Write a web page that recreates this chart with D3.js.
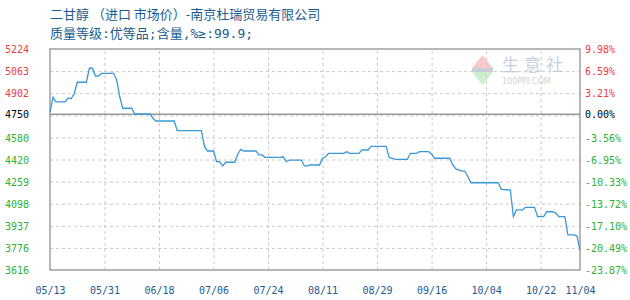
<!DOCTYPE html>
<html><head><meta charset="utf-8">
<script src="https://cdn.jsdelivr.net/npm/d3@7/dist/d3.min.js"></script>
<style>
html,body{margin:0;padding:0;background:#fff;}
svg{display:block;}
</style></head>
<body>
<svg id="chart" width="630" height="300"></svg>
<script>
const titleLine1 = "二甘醇 （进口 市场价）-南京杜瑞贸易有限公司";
const titleLine2 = "质量等级:优等品;含量,%≥:99.9;";

const dates = ["05-13","05-14","05-15","05-18","05-19","05-20","05-21","05-22","05-25","05-26","05-27","05-28","05-29","05-30",
"06-03","06-04","06-05","06-06","06-09","06-10","06-15","06-16","06-17","06-23","06-24",
"07-02","07-03","07-04","07-06","07-07","07-08","07-09","07-10","07-13","07-14","07-15","07-16","07-20","07-21","07-22","07-23","07-28","07-29","07-30","07-31",
"08-04","08-05","08-06","08-07","08-10","08-11","08-12","08-13","08-18","08-19","08-20","08-23","08-24","08-26","08-27",
"09-01","09-02","09-03","09-04","09-08","09-09","09-11","09-12","09-15","09-16","09-17","09-22","09-23","09-24","09-26","09-27","09-28","09-29",
"10-08","10-09","10-12","10-13","10-14","10-16","10-17","10-20","10-21","10-23","10-24","10-26","10-27","10-28","10-30","10-31",
"11-02","11-03","11-04"];
const values = [4765,4873,4840,4840,4868,4862,4900,4982,4982,5084,5084,5027,5027,5047,
5047,5000,4880,4793,4793,4751,4751,4720,4700,4700,4630,
4630,4513,4482,4482,4404,4404,4373,4400,4400,4460,4494,4482,4482,4453,4453,4436,4436,4440,4404,4416,
4416,4373,4373,4380,4380,4429,4440,4465,4465,4477,4465,4465,4489,4489,4516,
4516,4435,4429,4421,4421,4465,4465,4477,4477,4460,4429,4429,4380,4351,4336,4336,4295,4251,
4251,4203,4198,4004,4053,4053,4072,4072,4004,4004,4040,4040,4030,4004,4004,3871,
3871,3865,3762];

const xTickDates = ["05-13","05-31","06-18","07-06","07-24","08-11","08-29","09-16","10-04","10-22","11-04"];
const yDomain = [3616, 5224];
const baseValue = 4750;
const yLabels = ["5224","5063","4902","4750","4580","4420","4259","4098","3937","3776","3616"];
const pctLabels = ["9.98%","6.59%","3.21%","0.00%","-3.56%","-6.95%","-10.33%","-13.72%","-17.10%","-20.49%","-23.87%"];

const YEAR = 2024;
const parse = s => new Date(Date.UTC(YEAR, +s.slice(0,2)-1, +s.slice(3,5)));
const data = dates.map((d,i)=>({date:parse(d), value:values[i]}));

const L=50, R=580, T=49, B=270;
const svg = d3.select("#chart");
const x = d3.scaleUtc().domain([parse(xTickDates[0]), parse(xTickDates[xTickDates.length-1])]).range([L,R]);
const y = d3.scaleLinear().domain(yDomain).range([B,T]);

const nY = yLabels.length;
const gridVals = d3.range(nY).map(i => yDomain[1] - i*(yDomain[1]-yDomain[0])/(nY-1));
const labelVals = yLabels.map(v => +v);

// watermark
const wm = svg.append("g").attr("opacity",0.55);
wm.append("path").attr("d","M472,68 L482.5,55 L493,68 Z").attr("fill","#f4a0a0");
wm.append("rect").attr("x",472).attr("y",68).attr("width",21).attr("height",4).attr("fill","#9aa6c8");
wm.append("path").attr("d","M472,72 L482.5,85 L493,72 Z").attr("fill","#a8e0a8");
wm.append("text").attr("x",502).attr("y",71).attr("font-family","Noto Sans CJK SC").attr("font-size",17)
  .attr("fill","#9aa8cc").attr("letter-spacing",5).text("生意社");
wm.append("text").attr("x",502).attr("y",84).attr("font-family","DejaVu Sans").attr("font-size",8)
  .attr("fill","#aaaaaa").text("100PPI.COM");

// grid horizontal
const gy = svg.append("g").attr("transform",`translate(${L},0)`)
  .call(d3.axisLeft(y).tickValues(gridVals.slice(1,-1)).tickSize(-(R-L)).tickFormat(""));
gy.select(".domain").remove();
gy.selectAll("line").attr("stroke","#c8c8c8").attr("stroke-dasharray","3,3");

// grid vertical
const gx = svg.append("g").attr("transform",`translate(0,${B})`)
  .call(d3.axisBottom(x).tickValues(xTickDates.slice(1,-1).map(parse)).tickSize(-(B-T)).tickFormat(""));
gx.select(".domain").remove();
gx.selectAll("line").attr("stroke","#c8c8c8").attr("stroke-dasharray","3,3");

// baseline
svg.append("line").attr("x1",L).attr("x2",R).attr("y1",y(baseValue)).attr("y2",y(baseValue))
  .attr("stroke","#999").attr("stroke-width",1.5);

// border
svg.append("rect").attr("x",L).attr("y",T).attr("width",R-L).attr("height",B-T)
  .attr("fill","none").attr("stroke","#a0a0a0").attr("stroke-width",1.5);

// line
svg.append("path").datum(data)
  .attr("d", d3.line().x(d=>x(d.date)).y(d=>y(d.value)))
  .attr("fill","none").attr("stroke","#3a98d8").attr("stroke-width",1.3);

// labels
const colorFor = v => v > baseValue ? "#f03c3c" : (v < baseValue ? "#30b030" : "#000");
const fam = "DejaVu Sans Mono";
const gl = svg.append("g").attr("transform",`translate(5,0)`)
  .call(d3.axisRight(y).tickValues(labelVals).tickSize(0).tickPadding(0).tickFormat((d,i)=>yLabels[i]));
gl.select(".domain").remove();
gl.selectAll("text").attr("font-family",fam).attr("font-size",10).attr("fill",d=>colorFor(d)).attr("dy","0.35em");

const gr = svg.append("g").attr("transform",`translate(585,0)`)
  .call(d3.axisRight(y).tickValues(labelVals).tickSize(0).tickPadding(0).tickFormat((d,i)=>pctLabels[i]));
gr.select(".domain").remove();
gr.selectAll("text").attr("font-family",fam).attr("font-size",10).attr("fill",d=>colorFor(d)).attr("dy","0.35em");

const gb = svg.append("g").attr("transform",`translate(0,${B})`)
  .call(d3.axisBottom(x).tickValues(xTickDates.map(parse)).tickSize(0).tickPadding(0).tickFormat((d,i)=>xTickDates[i].replace("-","/")));
gb.select(".domain").remove();
gb.selectAll("text").attr("font-family",fam).attr("font-size",10).attr("fill","#1a5c8f").attr("dy","0").attr("y",24);

// titles
svg.append("text").attr("x",50).attr("y",19).attr("font-family","Noto Sans CJK SC").attr("font-size",13)
  .attr("fill","#1a5c8f").text(titleLine1);
svg.append("text").attr("x",50).attr("y",38).attr("font-family","'DejaVu Sans Mono', 'Noto Sans CJK SC'").attr("font-size",13)
  .attr("fill","#1a5c8f").text(titleLine2);
</script>
</body></html>
